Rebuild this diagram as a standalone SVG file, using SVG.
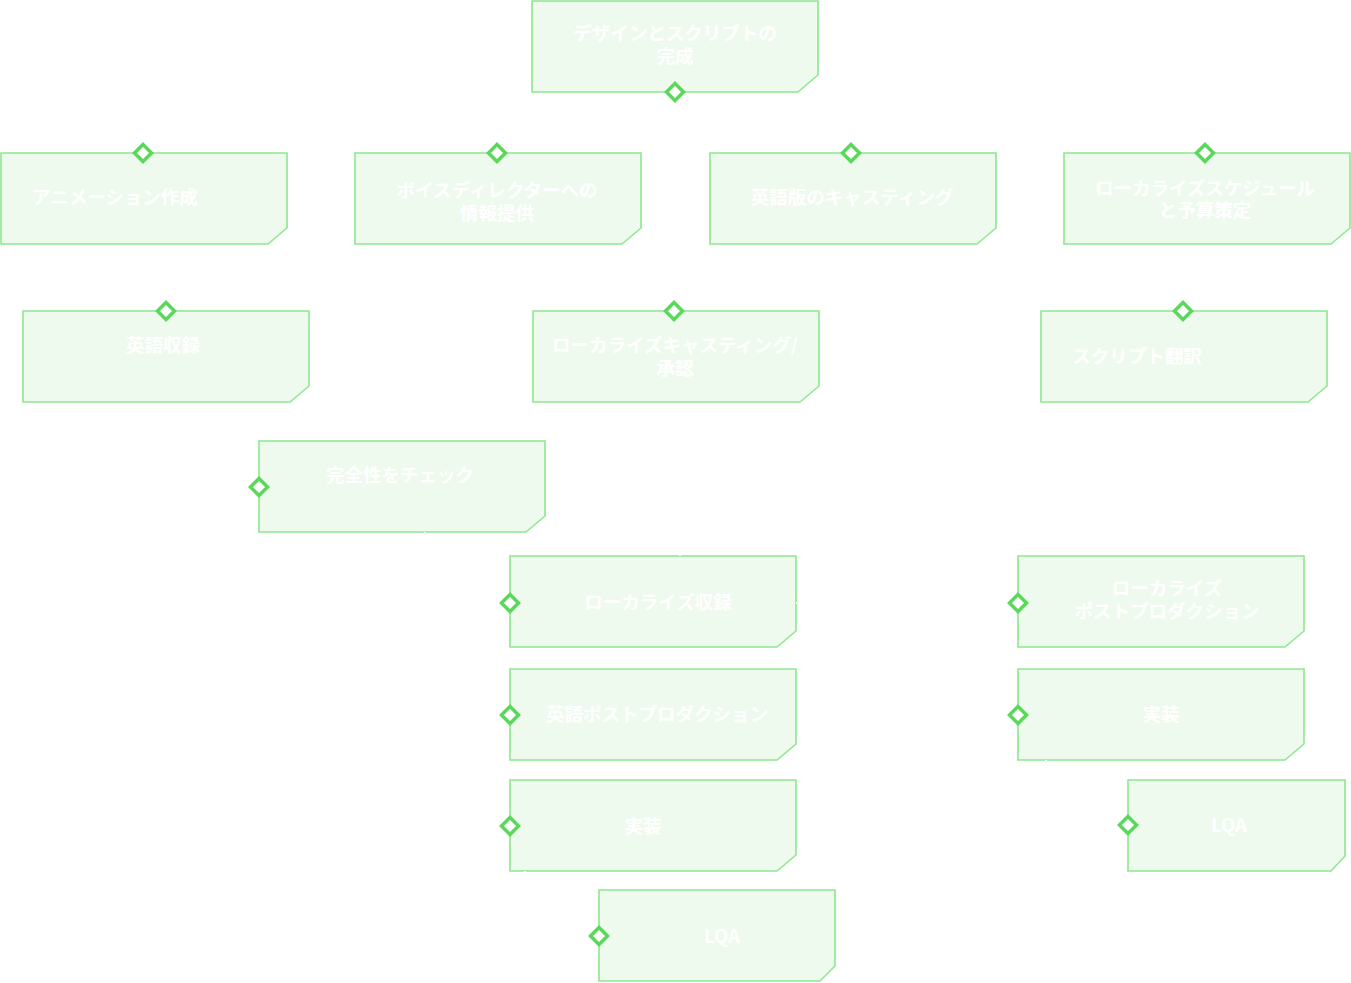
<svg xmlns="http://www.w3.org/2000/svg" width="1351" height="983" viewBox="0 0 1351 983">
<style>
.box{fill:#effaee;stroke:#8ee88e;stroke-width:1.6}
.lbl{fill:#ffffff;font-family:"Noto Sans CJK JP","Noto Sans",sans-serif;font-size:18.5px;font-weight:bold;text-anchor:middle}
.edge{fill:none;stroke:#ffffff;stroke-width:2}
</style>
<defs>
<marker id="dia" viewBox="-12 -12 24 24" markerUnits="userSpaceOnUse" markerWidth="24" markerHeight="24" refX="0" refY="0" orient="0">
<path d="M0,-8.5 L8.5,0 L0,8.5 L-8.5,0 Z" fill="#ffffff" stroke="#5ad85a" stroke-width="3.5"/>
</marker>
</defs>
<rect width="1351" height="983" fill="#ffffff"/>
<g id="nodes">
<g id="n-root"><path class="box" d="M532,1 H818 V75 L798,92 H532 Z"/><text class="lbl" x="675" y="40">デザインとスクリプトの<tspan x="675" dy="23">完成</tspan></text></g>
<g id="n-anim"><path class="box" d="M1,153 H287 V228 L268,244 H1 Z"/><text class="lbl" x="115" y="204">アニメーション作成</text></g>
<g id="n-voice"><path class="box" d="M355,153 H641 V228 L622,244 H355 Z"/><text class="lbl" x="497" y="197">ボイスディレクターへの<tspan x="497" dy="23">情報提供</tspan></text></g>
<g id="n-cast"><path class="box" d="M710,153 H996 V228 L977,244 H710 Z"/><text class="lbl" x="852" y="204">英語版のキャスティング</text></g>
<g id="n-sched"><path class="box" d="M1064,153 H1350 V228 L1331,244 H1064 Z"/><text class="lbl" x="1205" y="195">ローカライズスケジュール<tspan x="1205" dy="22">と予算策定</tspan></text></g>
<g id="n-enrec"><path class="box" d="M23,311 H309 V386 L290,402 H23 Z"/><text class="lbl" x="163" y="352">英語収録</text></g>
<g id="n-lcast"><path class="box" d="M533,311 H819 V386 L800,402 H533 Z"/><text class="lbl" x="675" y="352">ローカライズキャスティング/<tspan x="675" dy="23">承認</tspan></text></g>
<g id="n-trans"><path class="box" d="M1041,311 H1327 V386 L1308,402 H1041 Z"/><text class="lbl" x="1137" y="363">スクリプト翻訳</text></g>
<g id="n-check"><path class="box" d="M259,441 H545 V516 L526,532 H259 Z"/><text class="lbl" x="400" y="482">完全性をチェック</text></g>
<g id="n-lrec"><path class="box" d="M510,556 H796 V631 L777,647 H510 Z"/><text class="lbl" x="658" y="609">ローカライズ収録</text></g>
<g id="n-enpost"><path class="box" d="M510,669 H796 V744 L777,760 H510 Z"/><text class="lbl" x="657" y="721">英語ポストプロダクション</text></g>
<g id="n-impl1"><path class="box" d="M510,780 H796 V855 L777,871 H510 Z"/><text class="lbl" x="643" y="833">実装</text></g>
<g id="n-lqa1"><path class="box" d="M599,890 H835 V966 L820,981 H599 Z"/><text class="lbl" x="722" y="943">LQA</text></g>
<g id="n-lpost"><path class="box" d="M1018,556 H1304 V631 L1285,647 H1018 Z"/><text class="lbl" x="1167" y="595">ローカライズ<tspan x="1167" dy="23">ポストプロダクション</tspan></text></g>
<g id="n-impl2"><path class="box" d="M1018,669 H1304 V744 L1285,760 H1018 Z"/><text class="lbl" x="1161" y="721">実装</text></g>
<g id="n-lqa2"><path class="box" d="M1128,780 H1345 V856 L1331,871 H1128 Z"/><text class="lbl" x="1229" y="832">LQA</text></g>
</g>
<g id="connectors">
<path class="edge" d="M675,92 V122 H143 V153" marker-end="url(#dia)"/>
<path class="edge" d="M675,92 V122 H497 V153" marker-end="url(#dia)"/>
<path class="edge" d="M675,92 V122 H851 V153" marker-end="url(#dia)"/>
<path class="edge" d="M675,92 V122 H1205 V153" marker-start="url(#dia)" marker-end="url(#dia)"/>
<path class="edge" d="M143,246 V277 H166 V311" marker-end="url(#dia)"/>
<path class="edge" d="M851,246 V277 H674 V311" marker-end="url(#dia)"/>
<path class="edge" d="M1205,246 V277 H1183 V311" marker-end="url(#dia)"/>
<path class="edge" d="M166,404 V487 H259" marker-end="url(#dia)"/>
<path class="edge" d="M425,532 V603 H510" marker-end="url(#dia)"/>
<path class="edge" d="M674,404 V540 H680 V556"/>
<path class="edge" d="M1183,404 V520 H820 V603 H796"/>
<path class="edge" d="M166,404 V715 H510" marker-end="url(#dia)"/>
<path class="edge" d="M525,762 V770 H490 V826 H510" marker-end="url(#dia)"/>
<path class="edge" d="M525,871 V936 H599" marker-end="url(#dia)"/>
<path class="edge" d="M1183,404 V520 H998 V603 H1018" marker-end="url(#dia)"/>
<path class="edge" d="M1033,649 V658 H998 V715 H1018" marker-end="url(#dia)"/>
<path class="edge" d="M1046,760 V825 H1128" marker-end="url(#dia)"/>
</g>
</svg>
